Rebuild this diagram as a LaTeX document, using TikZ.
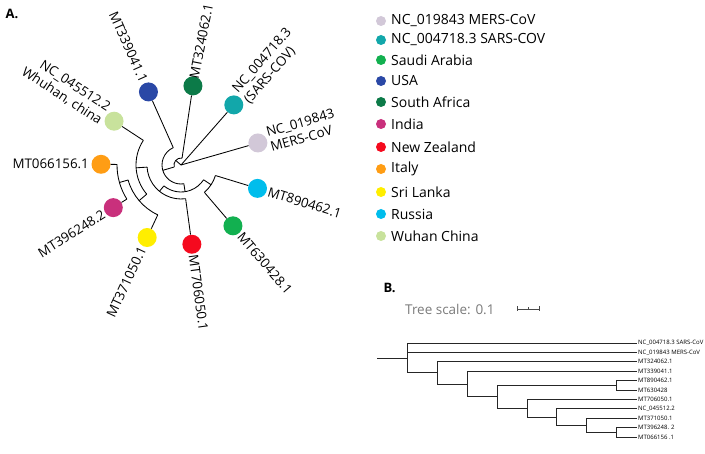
\documentclass[tikz,border=0pt]{standalone}
\usepackage{fontspec}
\setmainfont{Open Sans}
\definecolor{cmers}{HTML}{D2C8D8}
\definecolor{csars}{HTML}{12A7AA}
\definecolor{csaudi}{HTML}{12B050}
\definecolor{cusa}{HTML}{2A48A6}
\definecolor{csafr}{HTML}{0C7A48}
\definecolor{cindia}{HTML}{C9307C}
\definecolor{cnz}{HTML}{F50A1E}
\definecolor{citaly}{HTML}{FF9D14}
\definecolor{cslanka}{HTML}{FFEE00}
\definecolor{crussia}{HTML}{00BDEC}
\definecolor{cwuhan}{HTML}{C8E29C}
\definecolor{scalegrey}{HTML}{7A7A7A}

\begin{document}
\begin{tikzpicture}[x=1pt,y=-1pt,
  branch/.style={line width=0.85pt},
  leaf/.style={circle,inner sep=0pt,minimum size=19pt},
  key/.style={circle,inner sep=0pt,minimum size=10pt},
  lbl/.style={font=\fontsize{13.3}{15.5}\selectfont,inner sep=0pt},
  keytxt/.style={font=\fontsize{14}{16}\selectfont,inner sep=0pt,anchor=west},
  tip/.style={font=\fontsize{6}{7}\selectfont,inner sep=1pt,anchor=west}]
  \useasboundingbox (0,0) rectangle (705,454);
  \node[font=\bfseries\fontsize{13}{15}\selectfont,anchor=west] (tA) at (2,14) {A.};

  % circular tree
  \begin{scope}[shift={(181,165)},y=1pt]
   \foreach \n/\a/\col in {mers/16/cmers,sars/48.7/csars,safr/81.4/csafr,usa/114/cusa,
       wuhan/146.8/cwuhan,italy/179.5/citaly,india/212.2/cindia,slanka/245/cslanka,
       nz/277.8/cnz,saudi/310.5/csaudi,russia/343/crussia}
     \node[leaf,fill=\col] (\n) at (\a:80) {};
   \foreach \n/\a/\r in {nA/138.9/7,nB/196.35/19,nC/278.7/27,nD/326.75/36,
       nE/230.7/34,nF/183.6/45,nG/220.4/55,nH/195.85/64}
     \coordinate (\n) at (\a:\r);
   \coordinate (root) at (0,0);
   % arcs
   \foreach \r/\s/\e in {7/81.4/196.35,19/114/278.7,27/230.7/326.75,36/310.5/343,
       34/183.6/277.8,45/146.8/220.4,55/195.85/245,64/179.5/212.2}
     \draw[branch] (\s:\r) arc[start angle=\s,end angle=\e,radius=\r];
   % stems
   \draw[branch] (root) -- (mers);
   \draw[branch] (root) -- (sars);
   \draw[branch] (root) -- (nA);
   \foreach \c/\a/\r in {safr/81.4/7,nB/196.35/7,usa/114/19,nC/278.7/19,nD/326.75/27,
       nE/230.7/27,saudi/310.5/36,russia/343/36,nz/277.8/34,nF/183.6/34,wuhan/146.8/45,
       nG/220.4/45,slanka/245/55,nH/195.85/55,italy/179.5/64,india/212.2/64}
     \draw[branch] (\a:\r) -- (\c);
   % labels
   \node[lbl,rotate=16,anchor=west,align=left] (lmers) at (16:91) {NC\_019843\\MERS-CoV};
   \node[lbl,rotate=48.7,anchor=west,align=left] (lsars) at (48.7:91) {NC\_004718.3\\(SARS-COV)};
   \node[lbl,rotate=79,anchor=west] (lsafr) at (81.4:87) {MT324062.1};
   \node[lbl,rotate=-66,anchor=east] (lusa) at (114:91) {MT339041.1};
   \node[lbl,rotate=-33.2,anchor=east,align=right] (lwuhan) at (146.8:91) {NC\_045512.2\\Whuhan, china};
   \node[lbl,rotate=-0.5,anchor=east] (litaly) at (179.5:92) {MT066156.1};
   \node[lbl,rotate=32.2,anchor=east] (lindia) at (212.2:91) {MT396248.2};
   \node[lbl,rotate=65,anchor=east] (lslanka) at (245:91) {MT371050.1};
   \node[lbl,rotate=-82.2,anchor=west] (lnz) at (277.8:91) {MT706050.1};
   \node[lbl,rotate=-49.5,anchor=west] (lsaudi) at (310.5:91) {MT630428.1};
   \node[lbl,rotate=-17,anchor=west] (lrussia) at (343:91) {MT890462.1};
  \end{scope}

  % legend
  \foreach \col/\txt/\yy [count=\i] in {cmers/NC\_019843 MERS-CoV/21,csars/NC\_004718.3 SARS-COV/40,
      csaudi/Saudi Arabia/60,cusa/USA/81,csafr/South Africa/102,cindia/India/124,
      cnz/New Zealand/147,citaly/Italy/169,cslanka/Sri Lanka/192,crussia/Russia/214,
      cwuhan/Wuhan China/236}{
    \node[key,fill=\col] (key\i) at (381,\yy) {};
    \node[keytxt] (ktxt\i) at (391,\yy) {\txt};}

  % B. rectangular tree
  \node[font=\bfseries\fontsize{13}{15}\selectfont,anchor=west] (tB) at (380,288) {B.};
  \node[text=scalegrey,font=\fontsize{13.5}{15}\selectfont,inner sep=0pt,anchor=west] (tscale) at (405,309) {Tree scale: 0.1};
  \coordinate (sb0) at (517,309);
  \coordinate (sb1) at (539,309);
  \draw[scalegrey!60!black,line width=0.7pt] (sb0) -- (sb1);
  \draw[scalegrey!60!black,line width=0.7pt] (sb0) ++(0,-2.5) -- ++(0,5);
  \draw[scalegrey!60!black,line width=0.7pt] (sb1) ++(0,-2.5) -- ++(0,5);
  \draw[scalegrey!60!black,line width=0.5pt] (528,307.5) -- (528,310.5);

  \foreach \n/\txt/\yy in {bsars/NC\_004718.3 SARS-CoV/343,bmers/NC\_019843 MERS-CoV/352.4,
      bsafr/MT324062.1/361.8,busa/MT339041.1/371.2,brussia/MT890462.1/380.6,
      bsaudi/MT630428/390,bnz/MT706050.1/399.4,bwuhan/NC\_045512.2/408.8,
      bslanka/MT371050.1/418.2,bindia/MT396248. 2/427.6,bitaly/MT066156 .1/437}
    \node[tip] (\n) at (637,\yy) {\txt};
  \coordinate (bstub) at (377,358);
  \coordinate (bR) at (407,358);
  \coordinate (bA) at (437,372.9);
  \coordinate (bB) at (467,384);
  \coordinate (bC) at (497,396.75);
  \coordinate (bD) at (616,385.3);
  \coordinate (bE) at (527,408.2);
  \coordinate (bF) at (556,417);
  \coordinate (bG) at (586,425.25);
  \coordinate (bH) at (616,432.3);
  \draw[branch,black!85] (bstub) -- (bR);
  \foreach \p/\c in {bR/bsars,bR/bmers,bR/bA,bA/bsafr,bA/bB,bB/busa,bB/bC,bC/bD,bC/bE,
      bD/brussia,bD/bsaudi,bE/bnz,bE/bF,bF/bwuhan,bF/bG,bG/bslanka,bG/bH,bH/bindia,bH/bitaly}
    \draw[branch,black!85] (\p) |- (\c.west);
\end{tikzpicture}
\end{document}
